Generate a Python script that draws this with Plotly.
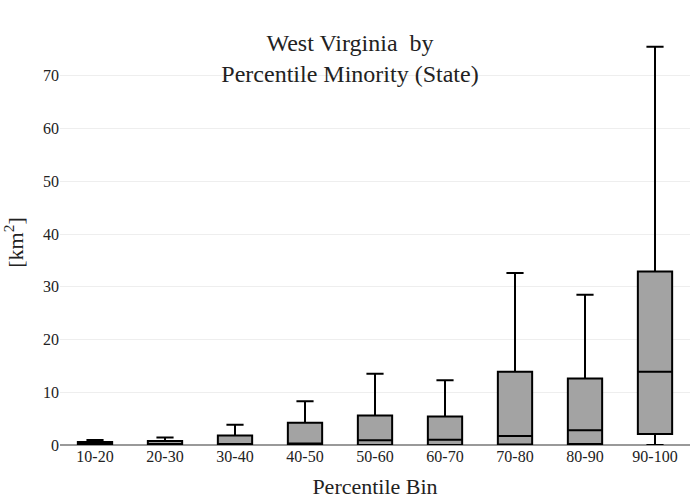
import plotly.graph_objects as go

bins = ["10-20", "20-30", "30-40", "40-50", "50-60", "60-70", "70-80", "80-90", "90-100"]
lower = [0, 0, 0, 0, 0, 0, 0, 0, 0]
q1 = [0, 0, 0, 0, 0, 0, 0.1, 0.2, 2.1]
median = [0.1, 0.1, 0.1, 0.3, 0.9, 1.0, 1.7, 2.8, 13.9]
q3 = [0.55, 0.75, 1.8, 4.2, 5.6, 5.4, 13.9, 12.6, 32.9]
upper = [0.95, 1.4, 3.85, 8.3, 13.5, 12.3, 32.6, 28.5, 75.5]

SERIF = "Times New Roman"

fig = go.Figure()
fig.add_trace(go.Box(
    x=bins, q1=q1, median=median, q3=q3, lowerfence=lower, upperfence=upper,
    fillcolor="#a3a3a3", line=dict(color="black", width=2),
    whiskerwidth=0.5, showlegend=False, boxpoints=False,
))
fig.update_layout(
    width=700, height=500,
    template="plotly_white",
    font=dict(family=SERIF, color="#222", size=16),
    title=dict(text="West Virginia  by<br>Percentile Minority (State)", x=0.5, xanchor="center",
               y=0.899, yanchor="middle", font=dict(family=SERIF, size=24, color="#222")),
    margin=dict(l=60, r=10, t=40, b=55, autoexpand=False),
    plot_bgcolor="white",
    xaxis=dict(title=dict(text="Percentile Bin", font=dict(family=SERIF, size=22), standoff=14),
               automargin=False, showgrid=False, tickfont=dict(family=SERIF, size=16)),
    yaxis=dict(title=dict(text="[km<sup>2</sup>]", font=dict(family=SERIF, size=22), standoff=16),
               automargin=False, range=[0, 76.8],
               dtick=10, gridcolor="#eeeeee", zeroline=True, zerolinecolor="#999999",
               zerolinewidth=2, tickfont=dict(family=SERIF, size=16)),
)
fig.write_html("out.html", post_script="document.body.style.margin='0px';",
               config={"displayModeBar": False})
